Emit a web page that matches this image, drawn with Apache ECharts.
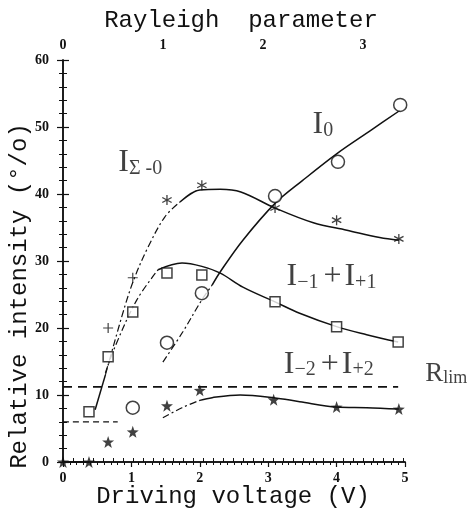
<!DOCTYPE html>
<html><head><meta charset="utf-8">
<script src="https://cdn.jsdelivr.net/npm/echarts@6/dist/echarts.min.js"></script>
<style>html,body{margin:0;padding:0;background:#fff}#c{width:476px;height:516px}</style>
</head><body><div id="c"></div>
<script>
// ---- data (x = driving voltage V, y = relative intensity %) ----
const circlesI0   = [[1.02,8.1],[1.52,17.8],[2.03,25.2],[3.10,39.7],[4.02,44.8],[4.93,53.3]];
const squaresI1   = [[0.38,7.5],[0.66,15.7],[1.02,22.4],[1.52,28.2],[2.03,27.9],[3.10,23.9],[4.00,20.2],[4.90,17.9]];
const plusSigma   = [[0.66,20.0],[1.02,27.5]];
const asterSigma  = [[1.52,39.1],[2.03,41.3],[3.10,37.9],[4.00,36.1],[4.91,33.3]];
const starsI2     = [[0,0],[0.38,0],[0.66,3.0],[1.02,4.5],[1.52,8.4],[2.00,10.7],[3.08,9.3],[4.00,8.2],[4.91,7.9]];

// fitted curves
const fitSigmaLow   = [[0.47,7.8],[0.62,13.0]];
const fitSigmaDash  = [[0.62,13.0],[0.90,23.1],[1.05,27.6],[1.24,32.0],[1.49,36.6],[1.71,38.8]];
const fitSigmaSolid = [[1.71,38.8],[2.00,40.6],[2.30,40.7],[2.60,40.3],[3.10,37.9],[3.66,35.7],[4.15,34.6],[4.63,33.5],[4.91,33.1]];
const fitI1Dash     = [[0.62,13.3],[0.76,17.2],[1.08,24.2],[1.39,28.7]];
const fitI1Solid    = [[1.39,28.7],[1.74,29.7],[2.03,29.2],[2.30,28.2],[2.63,26.1],[3.10,23.9],[3.46,22.2],[4.00,20.2],[4.44,19.0],[4.90,17.9]];
const fitI0Low      = [[0,6.0],[0.80,6.0]];
const fitI0Dash     = [[1.46,14.9],[1.75,19.4],[2.03,24.2],[2.18,26.4]];
const fitI0Solid    = [[2.18,26.4],[2.30,28.4],[2.63,33.1],[3.10,38.6],[3.50,42.0],[4.00,46.0],[4.50,49.5],[4.93,52.5]];
const fitI2Zero     = [[0,0],[0.38,0]];
const fitI2Dash     = [[1.46,6.6],[1.74,8.1],[2.00,9.2]];
const fitI2Solid    = [[2.00,9.2],[2.18,9.6],[2.59,10.0],[3.08,9.6],[3.46,9.0],[4.00,8.2],[4.44,8.1],[4.91,7.9]];
const rLimLevel     = 11.2;
const rLimSpan      = [0, 4.9];

// axes
const voltageRange  = [0, 5];
const rayleighRange = [0, 3.42];
const intensityRange = [0, 60];

// curve labels
const labelAnchors = [[3.64,50.4],[0.80,44.7],[3.26,27.7],[3.22,14.6],[5.29,13.1]];
const labelTexts   = ['{I|I}{s|0}', '{I|I}{s|Σ -0}', '{I|I}{s|−1}{p|+}{I|I}{s|+1}', '{I|I}{s|−2}{p|+}{I|I}{s|+2}', '{R|R}{l|lim}'];

const titleTop = 'Rayleigh  parameter';
const titleBottom = 'Driving voltage (V)';
const titleLeft = 'Relative intensity (°/o)';

// ---- symbols ----
const asteriskPath = 'path://M-1.2,-10L1.2,-10L1.2,10L-1.2,10Z M9.26,3.96L8.06,6.04L-9.26,-3.96L-8.06,-6.04Z M8.06,-6.04L9.26,-3.96L-8.06,6.04L-9.26,3.96Z';
const plusPath = 'path://M-1.2,-10L1.2,-10L1.2,-1.2L10,-1.2L10,1.2L1.2,1.2L1.2,10L-1.2,10L-1.2,1.2L-10,1.2L-10,-1.2L-1.2,-1.2Z';
const starPath = 'path://M0,-10L2.351,-3.236L9.511,-3.090L3.804,1.236L5.878,8.090L0,4L-5.878,8.090L-3.804,1.236L-9.511,-3.090L-2.351,-3.236Z';

const ink = '#111';
const solid = {color: ink, width: 1.5, type: 'solid'};
const dashdot = {color: ink, width: 1.2, type: [7,3,2,3]};

function fit(data, style) {
  return {type:'line', data, smooth:0.35, showSymbol:false, symbol:'none', lineStyle:style, silent:true, z:2, clip:false};
}
function marks(data, symbol, size, filled) {
  return {type:'scatter', data, symbol, symbolSize:size, z:3, clip:false,
    itemStyle: filled ? {color: ink} : {color:'#fff', borderColor: ink, borderWidth:1.5}};
}

const axisLine = {show:true, lineStyle:{color: ink, width:1.5}};
const labelFont = {fontFamily:'Liberation Serif', fontWeight:'bold', fontSize:14, color: ink};
const intFmt = v => (Math.abs(v - Math.round(v)) < 1e-6 ? String(Math.round(v)) : '');

const chart = echarts.init(document.getElementById('c'), null, {renderer:'canvas'});
chart.setOption({
  animation:false,
  backgroundColor:'#fff',
  grid:{left:63, right:71, top:60, bottom:54},
  xAxis:[
    {type:'value', position:'bottom', min:voltageRange[0], max:voltageRange[1], interval:1,
     axisLine, splitLine:{show:false},
     axisTick:{show:true, length:5, lineStyle:{color:ink, width:1.2}},
     minorTick:{show:true, splitNumber:10, length:3, lineStyle:{color:ink, width:1}},
     axisLabel:Object.assign({margin:9}, labelFont)},
    {type:'value', position:'top', min:rayleighRange[0], max:rayleighRange[1], interval:0.1,
     axisLine, splitLine:{show:false},
     axisTick:{show:true, length:4, lineStyle:{color:ink, width:1}},
     axisLabel:Object.assign({margin:8, formatter:intFmt, showMaxLabel:false}, labelFont)}
  ],
  yAxis:[
    {type:'value', position:'left', min:intensityRange[0], max:intensityRange[1], interval:10,
     axisLine, splitLine:{show:false},
     axisTick:{show:true, length:6, lineStyle:{color:ink, width:1.2}},
     minorTick:{show:true, splitNumber:5, length:4, lineStyle:{color:ink, width:1}},
     axisLabel:Object.assign({margin:14}, labelFont)},
    {type:'value', position:'right', min:intensityRange[0], max:intensityRange[1], interval:10,
     axisLine, splitLine:{show:false},
     axisTick:{show:true, length:6, lineStyle:{color:ink, width:1.2}},
     minorTick:{show:true, splitNumber:5, length:4, lineStyle:{color:ink, width:1}},
     axisLabel:{show:false}}
  ],
  series:[
    fit(fitSigmaLow, solid), fit(fitSigmaDash, dashdot), fit(fitSigmaSolid, solid),
    fit(fitI1Dash, dashdot), fit(fitI1Solid, solid),
    fit(fitI0Low, {color:ink, width:1.3, type:[6,4]}), fit(fitI0Dash, dashdot), fit(fitI0Solid, solid),
    fit(fitI2Zero, {color:ink, width:2}), fit(fitI2Dash, dashdot), fit(fitI2Solid, solid),
    {type:'line', data: rLimSpan.map(x => [x, rLimLevel]), showSymbol:false, symbol:'none',
     lineStyle:{color:ink, width:1.8, type:[9,6]}, z:2},
    marks(circlesI0, 'circle', 13, false),
    marks(squaresI1, 'rect', 10, false),
    marks(plusSigma, plusPath, 10, true),
    marks(asterSigma, asteriskPath, 10, true),
    marks(starsI2, starPath, 12, true),
    {type:'scatter', symbolSize:1, clip:false, z:5, silent:true,
     itemStyle:{color:'transparent'},
     data: labelAnchors.map((p,i) => ({value:p, label:{formatter: labelTexts[i]}})),
     label:{show:true, position:'right', distance:0, color:ink,
       rich:{
         I:{fontFamily:'Liberation Serif', fontSize:32, lineHeight:32, verticalAlign:'bottom', color:ink},
         s:{fontFamily:'Liberation Serif', fontSize:20, lineHeight:18, verticalAlign:'bottom', color:ink},
         p:{fontFamily:'Liberation Serif', fontSize:32, lineHeight:32, verticalAlign:'bottom', color:ink, padding:[0,3,0,5]},
         R:{fontFamily:'Liberation Serif', fontSize:27, lineHeight:27, verticalAlign:'bottom', color:ink},
         l:{fontFamily:'Liberation Serif', fontSize:18, lineHeight:15, verticalAlign:'bottom', color:ink}
       }}}
  ],
  graphic:[
    {type:'text', x:241, y:21, style:{text:titleTop, font:'24px "Liberation Mono"', fill:ink, align:'center', verticalAlign:'middle', textAlign:'center', textVerticalAlign:'middle'}},
    {type:'text', x:233, y:497, style:{text:titleBottom, font:'24px "Liberation Mono"', fill:ink, align:'center', verticalAlign:'middle', textAlign:'center', textVerticalAlign:'middle'}},
    {type:'text', x:20, y:296, rotation:Math.PI/2, style:{text:titleLeft, font:'24px "Liberation Mono"', fill:ink, align:'center', verticalAlign:'middle', textAlign:'center', textVerticalAlign:'middle'}}
  ]
});
</script></body></html>
